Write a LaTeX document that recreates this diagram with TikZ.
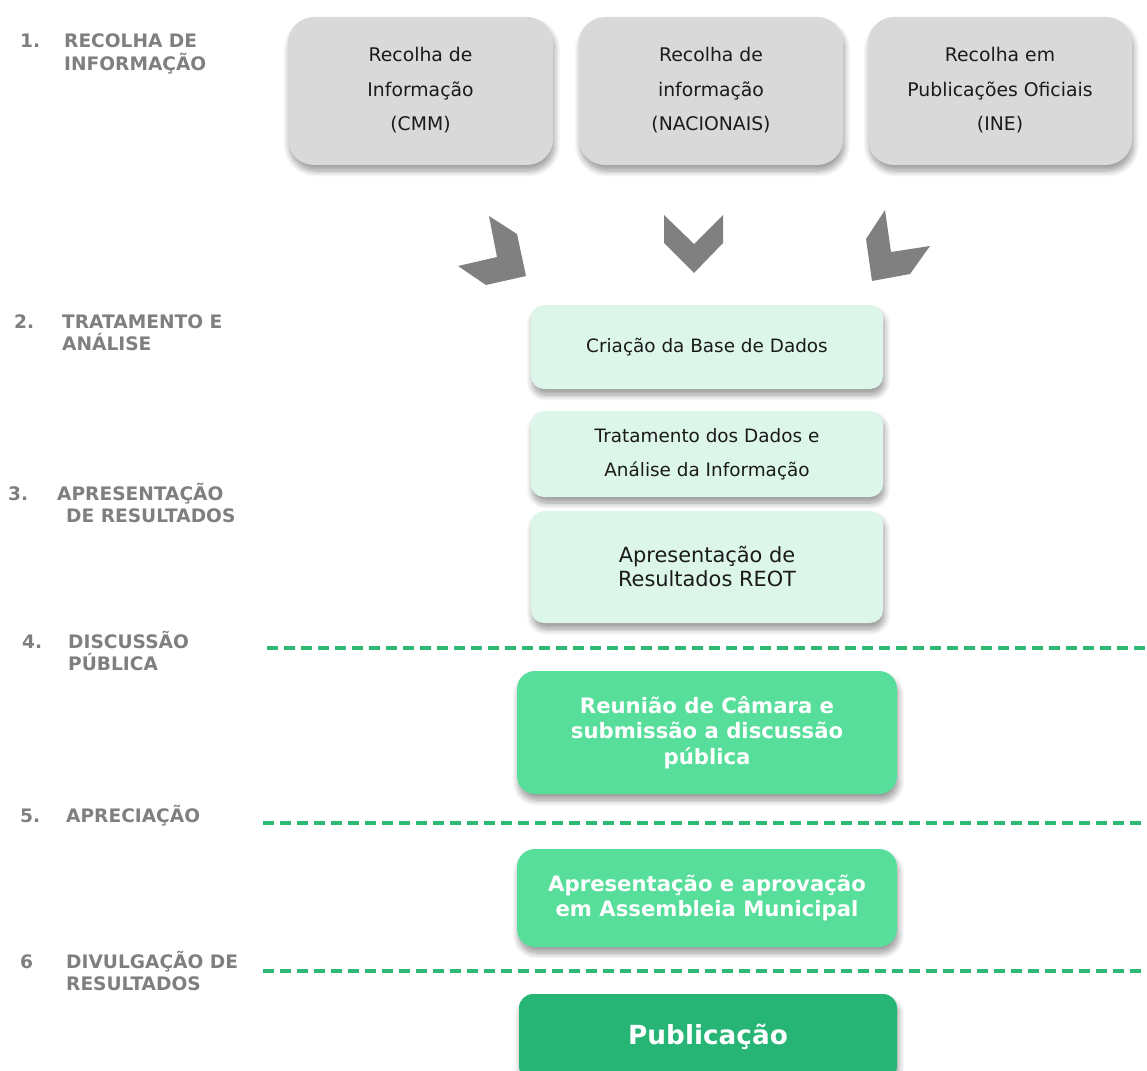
\documentclass[tikz,border=0pt]{standalone}
\usepackage{fontspec}
\setmainfont{DejaVu Sans}
\usetikzlibrary{shadows,shadows.blur}
\definecolor{lblgray}{HTML}{7F7F7F}
\definecolor{boxgray}{HTML}{D9D9D9}
\definecolor{lightgreen}{HTML}{DCF6EA}
\definecolor{midgreen}{HTML}{57DE9B}
\definecolor{darkgreen}{HTML}{26B574}
\definecolor{dashgreen}{HTML}{2DB873}
\definecolor{chevgray}{HTML}{808080}
\definecolor{txt}{HTML}{1A1A1A}
\tikzset{
  shad/.style={blur shadow={shadow xshift=1.5pt, shadow yshift=-6pt, shadow blur steps=10, shadow blur radius=6pt, shadow opacity=40}},
  graybox/.style={shad, fill=boxgray, rounded corners=26pt, minimum width=265pt, minimum height=148pt, align=center, text=txt, inner sep=0pt, font=\fontsize{18.8}{34.5}\selectfont},
  lgbox/.style={shad, fill=lightgreen, rounded corners=13pt, minimum width=352pt, align=center, text=txt, inner sep=0pt},
  gbox/.style={shad, fill=midgreen, rounded corners=18pt, minimum width=380pt, align=center, text=white, inner sep=0pt, font=\bfseries\fontsize{21.2}{25.5}\selectfont},
  stagelbl/.style={anchor=base west, align=left, text=lblgray, inner sep=0pt, font=\bfseries\fontsize{18.6}{22.5}\selectfont},
  sep/.style={draw=dashgreen, line width=3.2pt, dash pattern=on 11pt off 6pt},
  chev/.style={fill=chevgray}
}
\begin{document}
\begin{tikzpicture}[x=1pt,y=-1pt]
\useasboundingbox (0,0) rectangle (1147,1070);
% top boxes
\node[graybox] (b1) at (420.5,91) {Recolha de\\Informação\\(CMM)\\[-30.5pt]};
\node[graybox, minimum width=264pt] (b2) at (711,91) {Recolha de\\informação\\(NACIONAIS)\\[-30.5pt]};
\node[graybox, minimum width=264pt] (b3) at (1000,91) {Recolha em\\Publicações Oficiais\\(INE)\\[-30.5pt]};
% chevrons
\fill[chev] (489,216) -- (517,234) -- (526,276) -- (486,285) -- (458,266) -- (497,257) -- cycle;
\fill[chev] (664,215) -- (694,244) -- (723,215) -- (723,243) -- (694,273) -- (664,243) -- cycle;
\fill[chev] (885,210) -- (891,252) -- (930,246) -- (910,274) -- (872,281) -- (866,239) -- cycle;
% light green boxes
\node[lgbox, minimum height=84pt, font=\fontsize{18.4}{34}\selectfont] (a) at (707,347) {Criação da Base de Dados};
\node[lgbox, minimum height=86pt, font=\fontsize{18.4}{34}\selectfont] (b) at (707,454) {Tratamento dos Dados e\\Análise da Informação};
\node[lgbox, minimum height=112pt, font=\fontsize{20.9}{24}\selectfont] (c) at (707,567) {Apresentação de\\Resultados REOT};
% green boxes
\node[gbox, minimum height=123pt] (d) at (707,732.5) {Reunião de Câmara e\\submissão a discussão\\pública};
\node[gbox, minimum height=98pt] (e) at (707,898) {Apresentação e aprovação\\em Assembleia Municipal};
\node[gbox, fill=darkgreen, minimum width=378pt, minimum height=86pt, rounded corners=14pt, font=\bfseries\fontsize{26.3}{30}\selectfont] (f) at (708,1037) {Publicação};
% dashed separators
\coordinate (s1a) at (267,648); \coordinate (s1b) at (1147,648);
\coordinate (s2a) at (263,823); \coordinate (s2b) at (1147,823);
\coordinate (s3a) at (263,971); \coordinate (s3b) at (1147,971);
\draw[sep] (s1a) -- (s1b);
\draw[sep] (s2a) -- (s2b);
\draw[sep] (s3a) -- (s3b);
% stage labels (multi-line nodes: base = last line)
\node[stagelbl] (n1) at (20,48) {1.};
\node[stagelbl] (l1) at (64,70.5) {RECOLHA DE\\INFORMAÇÃO};
\node[stagelbl] (n2) at (14,328) {2.};
\node[stagelbl] (l2) at (62,350.5) {TRATAMENTO E\\ANÁLISE};
\node[stagelbl] (n3) at (8,500) {3.};
\node[stagelbl] (l3) at (57,522.5) {APRESENTAÇÃO\\\hspace*{9pt}DE RESULTADOS};
\node[stagelbl] (n4) at (22,648) {4.};
\node[stagelbl] (l4) at (68,670.5) {DISCUSSÃO\\PÚBLICA};
\node[stagelbl] (n5) at (20,822) {5.};
\node[stagelbl] (l5) at (66,822) {APRECIAÇÃO};
\node[stagelbl] (n6) at (20,968) {6};
\node[stagelbl] (l6) at (66,990.5) {DIVULGAÇÃO DE\\RESULTADOS};
\end{tikzpicture}
\end{document}
